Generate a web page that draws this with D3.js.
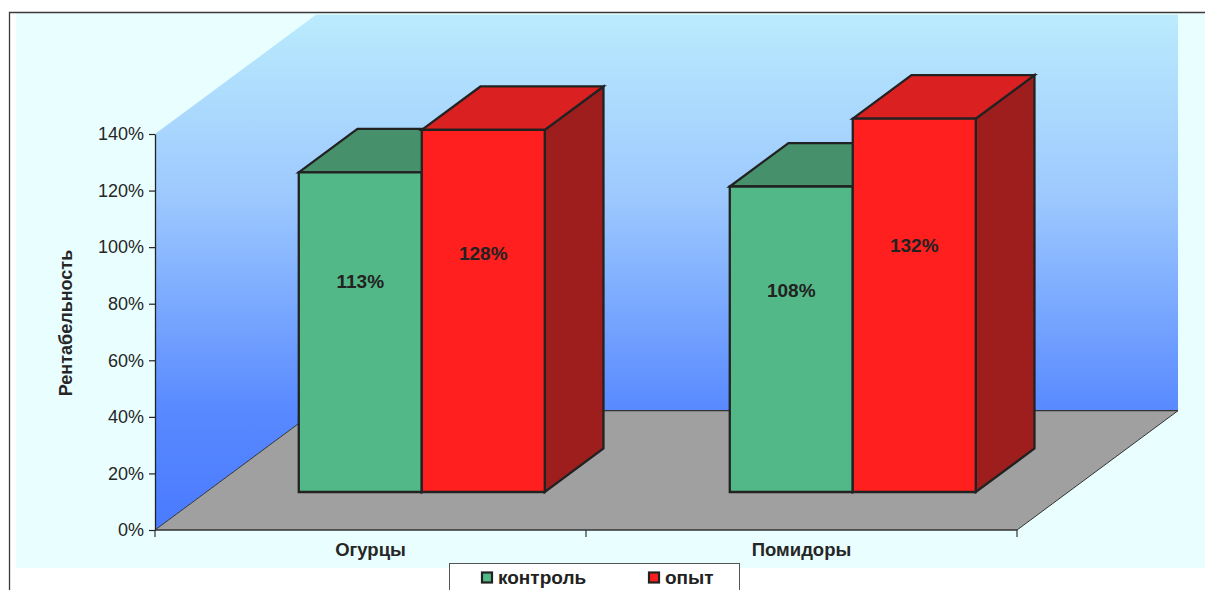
<!DOCTYPE html>
<html>
<head>
<meta charset="utf-8">
<script src="https://cdn.jsdelivr.net/npm/d3@7"></script>
<style>
  html, body { margin: 0; padding: 0; background: #ffffff; }
  svg { display: block; font-family: "Liberation Sans", Arial, sans-serif; }
</style>
</head>
<body>
<svg id="chart" width="1205" height="590"></svg>
<script>
// Рентабельность: контроль vs опыт
const categories = ["Огурцы", "Помидоры"];
const seriesNames = ["контроль", "опыт"];
const controlValues = [113, 108];
const experimentValues = [128, 132];
const yTickValues = [0, 20, 40, 60, 80, 100, 120, 140];
const yTitle = "Рентабельность";

const seriesValues = [controlValues, experimentValues];
const seriesColors = [
  { front: "#53B887", top: "#46906C", side: "#3A7A5A" },
  { front: "#FF1F1F", top: "#DA2020", side: "#9E1E1E" }
];

const svg = d3.select("#chart");
const W = 1205, H = 590;

// Front plane of the 3D box and its depth vector
const front = { left: 155, right: 1017, bottom: 530, top: 134 };
const depth = { dx: 161, dy: -119.3 };
const barDepth = [0.3185, 0.683];

const x = d3.scaleBand().domain(categories).range([front.left, front.right]).padding(0);
const gapFrac = 0.2146;
const xs = d3.scaleBand().domain(seriesNames)
  .range([x.bandwidth() * gapFrac, x.bandwidth() * (1 - gapFrac)]).padding(0);
const y = d3.scaleLinear().domain([0, 140]).range([front.bottom, front.top]);

// projection of (screen-x at front, value, depth fraction)
const P = (px, v, d) => [px + d * depth.dx, y(v) + d * depth.dy];
const poly = pts => "M" + pts.map(p => p.join(",")).join("L") + "Z";

// gradient for the walls
const defs = svg.append("defs");
const grad = defs.append("linearGradient").attr("id", "wallGrad")
  .attr("gradientUnits", "userSpaceOnUse")
  .attr("x1", 0).attr("x2", 0)
  .attr("y1", y(140) + depth.dy).attr("y2", y(0));
[[0, "#BAEBFD"], [0.36, "#9CC8FE"], [0.77, "#5889FF"], [1, "#4A7AFF"]]
  .forEach(([o, c]) => grad.append("stop").attr("offset", o).attr("stop-color", c));

// chart area and plot area backgrounds
svg.append("rect").attr("x", 0).attr("y", 0).attr("width", W).attr("height", H).attr("fill", "#ffffff");
svg.append("rect").attr("x", 16).attr("y", 13).attr("width", W - 16).attr("height", 555).attr("fill", "#E9FFFF");
svg.append("path")
  .attr("d", `M9.5,${H + 2}V12.5H${W + 2}`)
  .attr("fill", "none").attr("stroke", "#3a3a3a").attr("stroke-width", 1.3);

const x0 = x.range()[0], x1 = x.range()[1];

// side wall
svg.append("path")
  .attr("d", poly([P(x0, 0, 0), P(x0, 140, 0), P(x0, 140, 1), P(x0, 0, 1)]))
  .attr("fill", "url(#wallGrad)");
// back wall
svg.append("path")
  .attr("d", poly([P(x0, 0, 1), P(x0, 140, 1), P(x1, 140, 1), P(x1, 0, 1)]))
  .attr("fill", "url(#wallGrad)");
// floor
svg.append("path")
  .attr("d", poly([P(x0, 0, 0), P(x0, 0, 1), P(x1, 0, 1), P(x1, 0, 0)]))
  .attr("fill", "#A0A0A0");
// floor edges
const edge = (a, b, w) => svg.append("line")
  .attr("x1", a[0]).attr("y1", a[1]).attr("x2", b[0]).attr("y2", b[1])
  .attr("stroke", "#333").attr("stroke-width", w);
edge(P(x0, 0, 0), P(x0, 0, 1), 1);
edge(P(x0, 0, 1), P(x1, 0, 1), 1.2);
edge(P(x1, 0, 1), P(x1, 0, 0), 1);
edge(P(x0, 0, 0), P(x1, 0, 0), 1.5);

// y axis
const yAxis = svg.append("g")
  .attr("transform", `translate(${x0},0)`)
  .call(d3.axisLeft(y).tickValues(yTickValues).tickFormat(d => d + "%")
    .tickSize(6).tickSizeOuter(0).tickPadding(5));
yAxis.select(".domain").attr("stroke", "#222").attr("stroke-width", 1.3);
yAxis.selectAll(".tick line").attr("stroke", "#222").attr("stroke-width", 1.2);
yAxis.selectAll(".tick text").attr("fill", "#262626")
  .style("font-size", "18px").style("font-family", "Liberation Sans, Arial, sans-serif");

// category axis ticks at band boundaries
const bounds = categories.map(c => x(c)).concat([x1]);
svg.selectAll(".ctick").data(bounds).enter().append("line")
  .attr("x1", d => d).attr("x2", d => d)
  .attr("y1", y(0)).attr("y2", y(0) + 7)
  .attr("stroke", "#333").attr("stroke-width", 1.2);
svg.selectAll(".clabel").data(categories).enter().append("text")
  .attr("x", d => x(d) + x.bandwidth() / 2)
  .attr("y", y(0) + 26)
  .attr("text-anchor", "middle")
  .attr("fill", "#262626")
  .style("font-size", "18.5px").style("font-weight", "bold")
  .text(d => d);

// axis title
svg.append("text")
  .attr("transform", `translate(66,${(y(0) + y(140)) / 2 - 9}) rotate(-90)`)
  .attr("text-anchor", "middle").attr("dy", "0.35em")
  .attr("fill", "#262626")
  .style("font-size", "18px").style("font-weight", "bold")
  .text(yTitle);

// 3D bars
const bars = [];
categories.forEach((c, ci) => {
  seriesNames.forEach((s, si) => {
    bars.push({ c, s, si, v: seriesValues[si][ci] });
  });
});
const [d1, d2] = barDepth;
const barG = svg.append("g");
bars.forEach(b => {
  const L = x(b.c) + xs(b.s), R = L + xs.bandwidth();
  const col = seriesColors[b.si];
  const g = barG.append("g")
    .attr("stroke", "#222").attr("stroke-width", 2.3).attr("stroke-linejoin", "miter");
  // right side
  g.append("path").attr("fill", col.side)
    .attr("d", poly([P(R, 0, d1), P(R, b.v, d1), P(R, b.v, d2), P(R, 0, d2)]));
  // top
  g.append("path").attr("fill", col.top)
    .attr("d", poly([P(L, b.v, d1), P(L, b.v, d2), P(R, b.v, d2), P(R, b.v, d1)]));
  // front
  g.append("path").attr("fill", col.front)
    .attr("d", poly([P(L, 0, d1), P(L, b.v, d1), P(R, b.v, d1), P(R, 0, d1)]));
});

// value labels
svg.append("g").selectAll("text").data(bars).enter().append("text")
  .attr("x", b => P(x(b.c) + xs(b.s) + xs.bandwidth() / 2, 0, d1)[0])
  .attr("y", b => P(0, b.v * 0.66, d1)[1])
  .attr("dy", "0.35em")
  .attr("text-anchor", "middle")
  .attr("fill", "#222")
  .style("font-size", "19px").style("font-weight", "bold")
  .text(b => b.v + "%");

// legend
const lg = svg.append("g");
lg.append("rect").attr("x", 449.5).attr("y", 563.5).attr("width", 290).attr("height", 40)
  .attr("fill", "#ffffff").attr("stroke", "#555").attr("stroke-width", 1);
const legendX = [481, 648];
seriesNames.forEach((s, i) => {
  lg.append("rect").attr("x", legendX[i] + 1).attr("y", 572.5).attr("width", 10).attr("height", 10)
    .attr("fill", seriesColors[i].front).attr("stroke", "#222").attr("stroke-width", 2.2);
  lg.append("text").attr("x", legendX[i] + 17).attr("y", 583.5)
    .attr("fill", "#222")
    .style("font-size", "19px").style("font-weight", "bold")
    .text(s);
});
</script>
</body>
</html>
